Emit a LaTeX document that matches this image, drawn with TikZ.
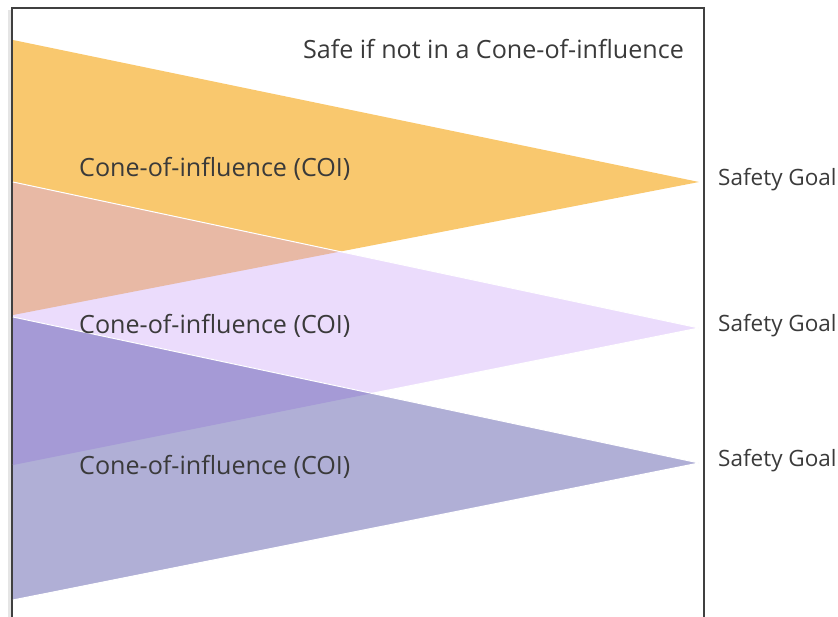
\documentclass[tikz,border=0pt]{standalone}
\usepackage{fontspec}
\setmainfont{Open Sans}
\definecolor{coneorange}{HTML}{F9C86E}
\definecolor{conepink}{HTML}{E8B9A5}
\definecolor{conelilac}{HTML}{EBDCFC}
\definecolor{conepurple}{HTML}{A59AD6}
\definecolor{coneslate}{HTML}{B0AFD6}
\definecolor{labelgray}{HTML}{3A3A3A}
\begin{document}
\begin{tikzpicture}[x=1pt,y=-1pt,
  lbl/.style={inner sep=0pt,text=labelgray,font=\fontsize{25.1}{29}\selectfont},
  goal/.style={lbl,anchor=west,font=\fontsize{22.5}{26}\selectfont},
  edge/.style={draw=white,line width=1pt,line join=miter},
  frame/.style={draw=black!75,line width=1.3pt}]
\useasboundingbox (0,0) rectangle (838,617);
% frame with a faint shadow on its left side
\draw[gray!20,line width=3pt] (9,10) -- (9,617);
\draw[frame] (12,617) -- (12,8) -- (704,8) -- (704,617);
% the three cones
\coordinate (oa) at (13,40);  \coordinate (ob) at (13,315);  \coordinate (ot) at (699,182);
\coordinate (la) at (13,182); \coordinate (lb) at (13,465);  \coordinate (lt) at (699,328);
\coordinate (sa) at (13,317); \coordinate (sb) at (13,600);  \coordinate (st) at (699,463);
\fill[coneorange] (oa) -- (ot) -- (ob) -- cycle;
\fill[conelilac] (la) -- (lt) -- (lb) -- cycle;
\begin{scope}
  \clip (oa) -- (ot) -- (ob) -- cycle;
  \fill[conepink] (la) -- (lt) -- (lb) -- cycle;
\end{scope}
\draw[edge] (la) -- (lt) -- (lb);
\fill[coneslate] (sa) -- (st) -- (sb) -- cycle;
\begin{scope}
  \clip (la) -- (lt) -- (lb) -- cycle;
  \fill[conepurple] (sa) -- (st) -- (sb) -- cycle;
\end{scope}
\draw[edge] (sa) -- (st) -- (sb);
% labels
\node[lbl,anchor=east] (safe) at (684,49) {Safe if not in a Cone-of-influence};
\node[lbl,anchor=west] (coi1) at (79,169) {Cone-of-influence (COI)};
\node[lbl,anchor=west] (coi2) at (79,326) {Cone-of-influence (COI)};
\node[lbl,anchor=west] (coi3) at (79,467) {Cone-of-influence (COI)};
\node[goal] (goal1) at (718,180) {Safety Goal};
\node[goal] (goal2) at (718,326) {Safety Goal};
\node[goal] (goal3) at (718,461) {Safety Goal};
\end{tikzpicture}
\end{document}
